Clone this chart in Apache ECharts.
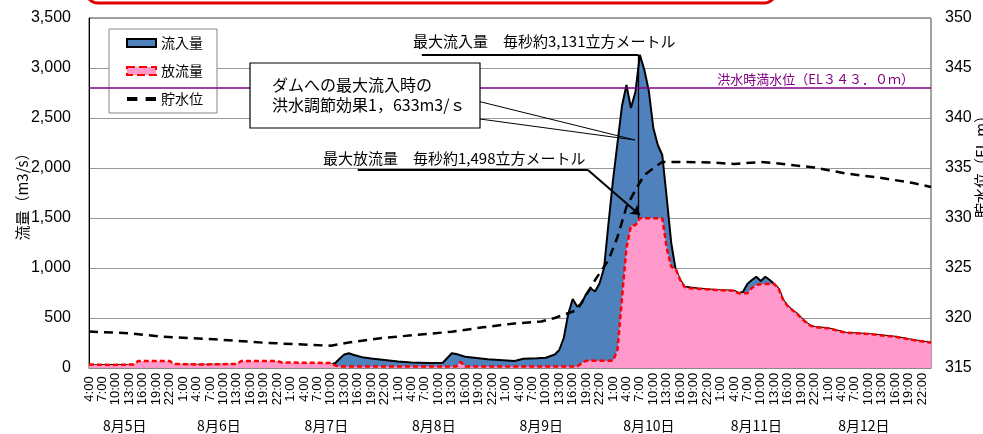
<!DOCTYPE html>
<html><head><meta charset="utf-8">
<script src="https://cdn.jsdelivr.net/npm/echarts@6/dist/echarts.min.js"></script>
<style>html,body{margin:0;padding:0;background:#fff}#c{width:983px;height:434px}</style>
</head><body><div id="c"></div>
<script>
// Hours counted from 8/5 4:00
const inflowHours  = [0,54,55,56,57,58,59,61,63,66,69,72,76,79,80,81,82,84,89,95,97,100,102,104,105,106,107,108,109,110,111,112,113,114,115,116,117,118,119,120,121,122,123,124,125,126,127,128,129,130,131,132,133,136,140,144,145,146,147,148,149,150,151,152,153,154,155,156,157,158,159,160,161,162,165,169,174,180,184,188];
const inflowValues = [30,35,50,95,135,147,132,107,95,80,65,55,50,53,100,147,140,113,87,70,93,98,103,135,180,300,540,690,615,647,740,797,765,847,1000,1450,1880,2250,2620,2830,2600,2760,3131,2980,2770,2400,2230,2130,1700,1250,980,880,813,795,780,773,750,760,840,880,913,870,913,880,840,790,680,620,580,547,500,460,425,410,397,353,340,313,280,253];

const outflowHours  = [0,5,10,11,18,19,25,33,34,42,43,54,55,56,82,83,84,109,110,111,117,118,119,120,121,122,123,128,129,130,131,132,133,134,140,144,145,147,148,149,150,153,154,155,156,157,158,159,160,161,162,165,169,174,180,184,188];
const outflowValues = [35,30,35,70,70,40,35,40,70,70,55,50,25,15,15,60,15,15,47,73,73,180,700,1200,1420,1430,1498,1498,1200,1013,990,880,810,797,780,773,747,747,800,830,840,840,790,680,620,580,547,500,460,425,410,397,353,340,313,280,253];

const levelHours  = [0,9,16,28,39,50,54,58,66,73,81,88,95,101,104,109,113,116,118,120,122,124,127,128,133,139,144,150,154,162,169,177,184,188];
const levelValues = [318.65,318.47,318.15,317.87,317.53,317.3,317.23,317.55,318.03,318.3,318.63,319.07,319.45,319.65,320.0,320.8,323.8,325.8,328.1,331.1,332.8,334.3,335.3,335.6,335.6,335.55,335.4,335.6,335.45,335.05,334.45,334.0,333.5,333.1];

const seriesNames = ['流入量', '放流量', '貯水位'];
const dayLabelHours = [8, 29, 53, 77, 101, 125, 149, 173];
const dayLabels = ['8月5日','8月6日','8月7日','8月8日','8月9日','8月10日','8月11日','8月12日'];
const floodLevel = 343;
const floodLevelLabel = '洪水時満水位（EL３４３．０ｍ）';
const maxInflowText = '最大流入量　毎秒約3,131立方メートル';
const maxOutflowText = '最大放流量　毎秒約1,498立方メートル';
const effectLines = ['ダムへの最大流入時の', '洪水調節効果1，633m3/ｓ'];
const rightTitle = '貯水位（EL.m）';
const maxInflow = 3131, maxOutflow = 1498;

const JP = '"Noto Sans CJK JP", sans-serif';
const NUM = '"Liberation Sans Narrow", "Liberation Sans", Arial, sans-serif';
const pair = (hs, vs) => hs.map((h, i) => [h, vs[i]]);

const chart = echarts.init(document.getElementById('c'));
chart.setOption({
  animation: false,
  grid: {left: 89, right: 52, top: 18, bottom: 66, show: true, borderColor: '#444', borderWidth: 1, containLabel: false, outerBoundsMode: 'none'},
  legend: {
    orient: 'vertical', left: 109, top: 29, padding: [7, 14, 7, 17], itemGap: 14,
    itemWidth: 29, itemHeight: 8, selectedMode: false,
    backgroundColor: '#fff', borderColor: '#888', borderWidth: 1,
    textStyle: {fontSize: 14, fontFamily: JP, color: '#000'},
    data: [
      {name: seriesNames[0], icon: 'rect', itemStyle: {color: '#4F81BD', borderColor: '#000', borderWidth: 2}},
      {name: seriesNames[1], icon: 'rect', itemStyle: {color: '#FF99CC', borderColor: '#FF0000', borderWidth: 2, borderType: 'dashed'}},
      {name: seriesNames[2], icon: 'path://M0,0H10V4H0ZM18,0H28V4H18Z', itemStyle: {color: '#000', borderWidth: 0}}
    ]
  },
  xAxis: [{
    type: 'value', min: 0, max: 188, interval: 3,
    axisLine: {show: true, lineStyle: {color: '#888'}}, axisTick: {show: false}, splitLine: {show: false},
    axisLabel: {rotate: 90, formatter: v => ((v + 4) % 24) + ':00', showMaxLabel: false, showMinLabel: true,
      fontSize: 13, fontFamily: '"Liberation Sans", Arial, sans-serif', color: '#000', margin: 21, align: 'center', verticalAlign: 'middle'}
  }, {
    type: 'value', min: 0, max: 188, position: 'bottom',
    axisLine: {show: false}, axisTick: {show: false}, splitLine: {show: false},
    axisLabel: {customValues: dayLabelHours, formatter: v => dayLabels[dayLabelHours.indexOf(v)] || '',
      margin: 51, fontSize: 14, fontFamily: JP, color: '#000'}
  }],
  yAxis: [{
    type: 'value', min: 0, max: 3500, interval: 500, position: 'left',
    axisLine: {show: true, lineStyle: {color: '#000'}}, axisTick: {show: false},
    splitLine: {show: true, lineStyle: {color: '#999', width: 1}},
    axisLabel: {fontSize: 16, fontFamily: NUM, color: '#000', margin: 18},
    name: '流量（m3/s）', nameLocation: 'middle', nameGap: 59, nameMoveOverlap: false,
    nameTextStyle: {fontSize: 15, fontFamily: JP, color: '#000'}
  }, {
    type: 'value', min: 315, max: 350, interval: 5, position: 'right',
    axisLine: {show: false}, axisTick: {show: false}, splitLine: {show: false},
    axisLabel: {fontSize: 16, fontFamily: NUM, color: '#000', margin: 14}
  }],
  series: [{
    name: seriesNames[0], type: 'line', xAxisIndex: 0, yAxisIndex: 0, data: pair(inflowHours, inflowValues),
    symbol: 'none', lineStyle: {color: '#000', width: 2}, itemStyle: {color: '#4F81BD'},
    areaStyle: {color: '#4F81BD', opacity: 1}, z: 2
  }, {
    name: seriesNames[1], type: 'line', xAxisIndex: 0, yAxisIndex: 0, data: pair(outflowHours, outflowValues),
    symbol: 'none', lineStyle: {color: '#FF0000', width: 2.5, type: [5, 3]}, itemStyle: {color: '#FF99CC'},
    areaStyle: {color: '#FF99CC', opacity: 1}, z: 3,
    markLine: {
      silent: true, symbol: ['none', 'none'], label: {show: false},
      lineStyle: {color: '#000', width: 2, type: 'solid'},
      data: [
        [{coord: [74.3, maxInflow]}, {coord: [122.7, maxInflow]}],
        [{coord: [122.7, maxInflow], lineStyle: {width: 1.3}}, {coord: [122.7, maxOutflow]}],
        [{coord: [60, 1980]}, {coord: [111.4, 1980]}],
        [{coord: [111.4, 1980], symbol: 'none', lineStyle: {width: 2}}, {coord: [123, 1530], symbol: 'arrow', symbolSize: 9}],
        [{coord: [87.3, 2663], lineStyle: {width: 1}}, {coord: [121.9, 2280]}],
        [{coord: [87.3, 2490], lineStyle: {width: 1}}, {coord: [121.9, 2280]}]
      ]
    }
  }, {
    name: seriesNames[2], type: 'line', xAxisIndex: 0, yAxisIndex: 1, data: pair(levelHours, levelValues),
    symbol: 'none', lineStyle: {color: '#000', width: 2.5, type: [9, 6]}, itemStyle: {color: '#000'}, z: 4,
    markLine: {
      silent: true, symbol: ['none', 'none'],
      lineStyle: {color: '#800080', width: 1.5, type: 'solid'},
      label: {show: true, position: 'insideEndTop', formatter: floodLevelLabel, color: '#800080', fontSize: 13, fontFamily: JP, distance: [17, 2]},
      data: [{yAxis: floodLevel}]
    }
  }],
  graphic: [
    {type: 'rect', z: 1, shape: {x: 86, y: -40, width: 690, height: 43, r: 12}, style: {fill: 'none', stroke: '#E00000', lineWidth: 3}},
    {type: 'text', z: 10, x: 413, y: 41, style: {text: maxInflowText, fontSize: 15, fontFamily: JP, fill: '#000', verticalAlign: 'middle'}},
    {type: 'text', z: 10, x: 323, y: 158, style: {text: maxOutflowText, fontSize: 15, fontFamily: JP, fill: '#000', verticalAlign: 'middle'}},
    {type: 'rect', z: 10, shape: {x: 250, y: 63, width: 230, height: 65}, style: {fill: '#fff', stroke: '#000', lineWidth: 1.2}},
    {type: 'text', z: 11, x: 272, y: 85, style: {text: effectLines[0], fontSize: 16, fontFamily: JP, fill: '#000', verticalAlign: 'middle'}},
    {type: 'text', z: 11, x: 272, y: 105, style: {text: effectLines[1], fontSize: 16, fontFamily: JP, fill: '#000', verticalAlign: 'middle'}},
    {type: 'text', z: 10, x: 981, y: 163, rotation: Math.PI / 2, style: {text: rightTitle, fontSize: 15, fontFamily: JP, fill: '#000', align: 'center', verticalAlign: 'middle'}}
  ]
});
</script></body></html>
